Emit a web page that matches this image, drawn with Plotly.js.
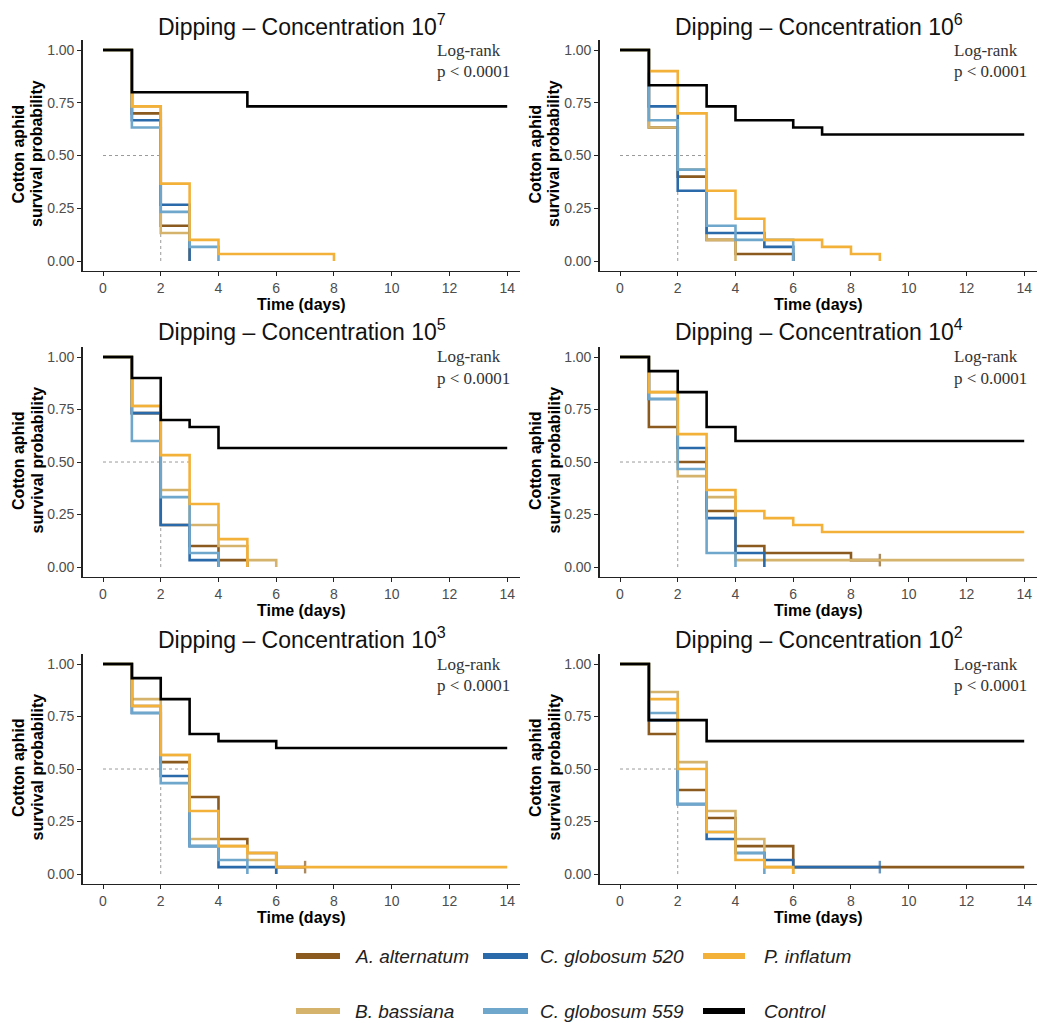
<!DOCTYPE html>
<html><head><meta charset="utf-8">
<script src="https://cdn.plot.ly/plotly-3.0.1.min.js"></script>
<style>html,body{margin:0;padding:0;background:#fff}</style>
</head><body>
<div id="chart" style="width:1042px;height:1023px"></div>
<script>
// ---------- DATA: survival probability at day 0,1,2,... (last entry = end of curve) ----------
const seriesNames  = ["A. alternatum", "B. bassiana", "C. globosum 520", "C. globosum 559", "P. inflatum", "Control"];
const seriesColors = ["#8a5a1e", "#d6b36c", "#2a69aa", "#6fa6cc", "#f4b13a", "#000000"];
const concExponents = ["7", "6", "5", "4", "3", "2"];

// Concentration 10^7
const alt7  = [1.000, 0.700, 0.167, 0.000];
const bas7  = [1.000, 0.733, 0.133, 0.000];
const c520_7 = [1.000, 0.667, 0.267, 0.000];
const c559_7 = [1.000, 0.633, 0.233, 0.067, 0.000];
const pinf7 = [1.000, 0.733, 0.367, 0.100, 0.033, 0.033, 0.033, 0.033, 0.000];
const ctrl7 = [1.000, 0.800, 0.800, 0.800, 0.800, 0.733, 0.733, 0.733, 0.733, 0.733, 0.733, 0.733, 0.733, 0.733, 0.733];

// Concentration 10^6
const alt6  = [1.000, 0.633, 0.400, 0.100, 0.033, 0.033, 0.000];
const bas6  = [1.000, 0.633, 0.433, 0.100, 0.000];
const c520_6 = [1.000, 0.733, 0.333, 0.133, 0.133, 0.067, 0.000];
const c559_6 = [1.000, 0.667, 0.433, 0.167, 0.100, 0.100, 0.000];
const pinf6 = [1.000, 0.900, 0.700, 0.333, 0.200, 0.100, 0.100, 0.067, 0.033, 0.000];
const ctrl6 = [1.000, 0.833, 0.833, 0.733, 0.667, 0.667, 0.633, 0.600, 0.600, 0.600, 0.600, 0.600, 0.600, 0.600, 0.600];

// Concentration 10^5
const alt5  = [1.000, 0.733, 0.200, 0.100, 0.033, 0.000];
const bas5  = [1.000, 0.767, 0.367, 0.200, 0.100, 0.033, 0.000];
const c520_5 = [1.000, 0.733, 0.200, 0.033, 0.000];
const c559_5 = [1.000, 0.600, 0.333, 0.067, 0.000];
const pinf5 = [1.000, 0.767, 0.533, 0.300, 0.133, 0.000];
const ctrl5 = [1.000, 0.900, 0.700, 0.667, 0.567, 0.567, 0.567, 0.567, 0.567, 0.567, 0.567, 0.567, 0.567, 0.567, 0.567];

// Concentration 10^4
const alt4  = [1.000, 0.667, 0.500, 0.267, 0.100, 0.067, 0.067, 0.067, 0.033, 0.033];
const bas4  = [1.000, 0.833, 0.433, 0.333, 0.033, 0.033, 0.033, 0.033, 0.033, 0.033, 0.033, 0.033, 0.033, 0.033, 0.033];
const c520_4 = [1.000, 0.800, 0.567, 0.233, 0.067, 0.000];
const c559_4 = [1.000, 0.800, 0.467, 0.067, 0.000];
const pinf4 = [1.000, 0.833, 0.633, 0.367, 0.267, 0.233, 0.200, 0.167, 0.167, 0.167, 0.167, 0.167, 0.167, 0.167, 0.167];
const ctrl4 = [1.000, 0.933, 0.833, 0.667, 0.600, 0.600, 0.600, 0.600, 0.600, 0.600, 0.600, 0.600, 0.600, 0.600, 0.600];

// Concentration 10^3
const alt3  = [1.000, 0.800, 0.533, 0.367, 0.167, 0.100, 0.033, 0.033];
const bas3  = [1.000, 0.833, 0.567, 0.167, 0.133, 0.067, 0.000];
const c520_3 = [1.000, 0.767, 0.467, 0.133, 0.033, 0.033, 0.000];
const c559_3 = [1.000, 0.767, 0.433, 0.133, 0.067, 0.000];
const pinf3 = [1.000, 0.800, 0.567, 0.300, 0.133, 0.100, 0.033, 0.033, 0.033, 0.033, 0.033, 0.033, 0.033, 0.033, 0.033];
const ctrl3 = [1.000, 0.933, 0.833, 0.667, 0.633, 0.633, 0.600, 0.600, 0.600, 0.600, 0.600, 0.600, 0.600, 0.600, 0.600];

// Concentration 10^2
const alt2  = [1.000, 0.667, 0.400, 0.267, 0.133, 0.133, 0.033, 0.033, 0.033, 0.033, 0.033, 0.033, 0.033, 0.033, 0.033];
const bas2  = [1.000, 0.867, 0.533, 0.300, 0.167, 0.033, 0.000];
const c520_2 = [1.000, 0.733, 0.333, 0.167, 0.100, 0.067, 0.033, 0.033, 0.033, 0.033];
const c559_2 = [1.000, 0.767, 0.333, 0.200, 0.100, 0.000];
const pinf2 = [1.000, 0.833, 0.500, 0.200, 0.067, 0.033, 0.000];
const ctrl2 = [1.000, 0.733, 0.733, 0.633, 0.633, 0.633, 0.633, 0.633, 0.633, 0.633, 0.633, 0.633, 0.633, 0.633, 0.633];

const panels = [
  [alt7, bas7, c520_7, c559_7, pinf7, ctrl7],
  [alt6, bas6, c520_6, c559_6, pinf6, ctrl6],
  [alt5, bas5, c520_5, c559_5, pinf5, ctrl5],
  [alt4, bas4, c520_4, c559_4, pinf4, ctrl4],
  [alt3, bas3, c520_3, c559_3, pinf3, ctrl3],
  [alt2, bas2, c520_2, c559_2, pinf2, ctrl2]
];
const xTickVals = [0, 2, 4, 6, 8, 10, 12, 14];
const yTickVals = [0, 0.25, 0.5, 0.75, 1];
const maxDay = 14;

// ---------- LAYOUT GEOMETRY (pixels) ----------
const W = 1042, H = 1023;
const FONT = "Liberation Sans, Arial, Helvetica, sans-serif";
const colPx = [[82.5, 520.2], [599.5, 1037.2]];
const rowPx = [[39.5, 270.5], [346.5, 576.5], [653.5, 883.5]];
const titleY = [25, 330, 638];
const legendColPx = [[296, 340, 353], [483, 528, 538], [703, 745, 762]]; // sample start, sample end, text start
const legendRowPx = [956, 1011];
const fx = p => p / W;
const fy = p => 1 - p / H;

const traces = [];
const layout = {
  width: W, height: H,
  margin: {l: 0, r: 0, t: 0, b: 0},
  paper_bgcolor: "#fff", plot_bgcolor: "#fff",
  hovermode: false, showlegend: false,
  font: {family: FONT, color: "#000"},
  annotations: [], shapes: []
};

const axisCommon = {
  showline: true, linecolor: "#222", linewidth: 1.3,
  ticks: "outside", ticklen: 4, tickcolor: "#222", tickwidth: 1,
  showgrid: false, zeroline: false, fixedrange: true,
  tickfont: {family: FONT, size: 14, color: "#4d4d4d"}
};
const yTitleFont = {family: FONT, size: 16, weight: "bold", color: "#000"};
const logFont = {family: "Liberation Serif, Times New Roman, serif", size: 17, color: "#333"};

panels.forEach((series, i) => {
  const col = i % 2, row = Math.floor(i / 2);
  const sfx = i === 0 ? "" : String(i + 1);
  const xa = "x" + sfx, ya = "y" + sfx;
  layout["xaxis" + sfx] = Object.assign({}, axisCommon, {
    domain: [fx(colPx[col][0]), fx(colPx[col][1])],
    range: [-0.71, 14.45], anchor: ya,
    tickvals: xTickVals,
    title: {text: "Time (days)", font: {family: FONT, size: 16, weight: "bold", color: "#000"}, standoff: 2}
  });
  layout["yaxis" + sfx] = Object.assign({}, axisCommon, {
    domain: [fy(rowPx[row][1]), fy(rowPx[row][0])],
    range: [-0.045, 1.05], anchor: xa,
    tickvals: yTickVals, tickformat: ".2f"
  });

  // y-axis title (two rotated lines)
  const yMid = fy((rowPx[row][0] + rowPx[row][1]) / 2 - 1);
  layout.annotations.push({
    xref: "paper", yref: "paper", x: fx(colPx[col][0] - 64), y: yMid,
    xanchor: "center", yanchor: "middle", textangle: -90, showarrow: false,
    text: "Cotton aphid", font: yTitleFont
  });
  layout.annotations.push({
    xref: "paper", yref: "paper", x: fx(colPx[col][0] - 45.5), y: yMid,
    xanchor: "center", yanchor: "middle", textangle: -90, showarrow: false,
    text: "survival probability", font: yTitleFont
  });

  // median reference lines (survival = 0.5)
  const medians = [];
  series.forEach(v => {
    const idx = v.findIndex(s => s <= 0.5);
    if (idx >= 0) medians.push(idx);
  });
  if (medians.length) {
    const mx = Math.max(...medians), mn = Math.min(...medians);
    layout.shapes.push({type: "line", xref: xa, yref: ya, x0: 0, x1: mx, y0: 0.5, y1: 0.5,
      line: {color: "#9a9a9a", width: 1, dash: "dot"}, layer: "below"});
    layout.shapes.push({type: "line", xref: xa, yref: ya, x0: mn, x1: mn, y0: 0, y1: 0.5,
      line: {color: "#9a9a9a", width: 1, dash: "dot"}, layer: "below"});
  }

  series.forEach((vals, k) => {
    const days = vals.map((_, d) => d);
    const last = vals.length - 1;
    const censored = vals[last] > 0 && last < maxDay;
    traces.push({
      type: "scatter", xaxis: xa, yaxis: ya,
      x: days, y: vals,
      mode: censored ? "lines+markers" : "lines",
      line: {shape: "hv", color: seriesColors[k], width: 2.6},
      marker: {symbol: "line-ns", size: vals.map((_, d) => (d === last ? 9 : 0)),
               color: seriesColors[k], line: {color: seriesColors[k], width: 2.4}},
      name: seriesNames[k], showlegend: false
    });
  });

  // panel title
  layout.annotations.push({
    xref: "paper", yref: "paper", x: fx((colPx[col][0] + colPx[col][1]) / 2 + 1), y: fy(titleY[row]),
    xanchor: "center", yanchor: "middle", showarrow: false,
    text: "Dipping – Concentration 10<sup>" + concExponents[i] + "</sup>",
    font: {family: FONT, size: 23, color: "#111"}
  });
  // log-rank text
  layout.annotations.push({
    xref: xa, yref: ya, x: 11.5, y: 1.0, xanchor: "left", yanchor: "middle",
    showarrow: false, text: "Log-rank", font: logFont
  });
  layout.annotations.push({
    xref: xa, yref: ya, x: 11.5, y: 0.896, xanchor: "left", yanchor: "middle",
    showarrow: false, text: "p &lt; 0.0001", font: logFont
  });
});

// legend: 3 columns x 2 rows, filled column-wise
seriesNames.forEach((name, k) => {
  const c = Math.floor(k / 2), r = k % 2;
  const yy = fy(legendRowPx[r]);
  layout.shapes.push({type: "line", xref: "paper", yref: "paper",
    x0: fx(legendColPx[c][0]), x1: fx(legendColPx[c][1]), y0: yy, y1: yy,
    line: {color: seriesColors[k], width: 6}});
  layout.annotations.push({xref: "paper", yref: "paper", x: fx(legendColPx[c][2]), y: yy,
    xanchor: "left", yanchor: "middle", showarrow: false, text: name,
    font: {family: FONT, size: 19, style: "italic", color: "#222"}});
});

Plotly.newPlot("chart", traces, layout, {displayModeBar: false, staticPlot: true});
</script>
</body></html>
